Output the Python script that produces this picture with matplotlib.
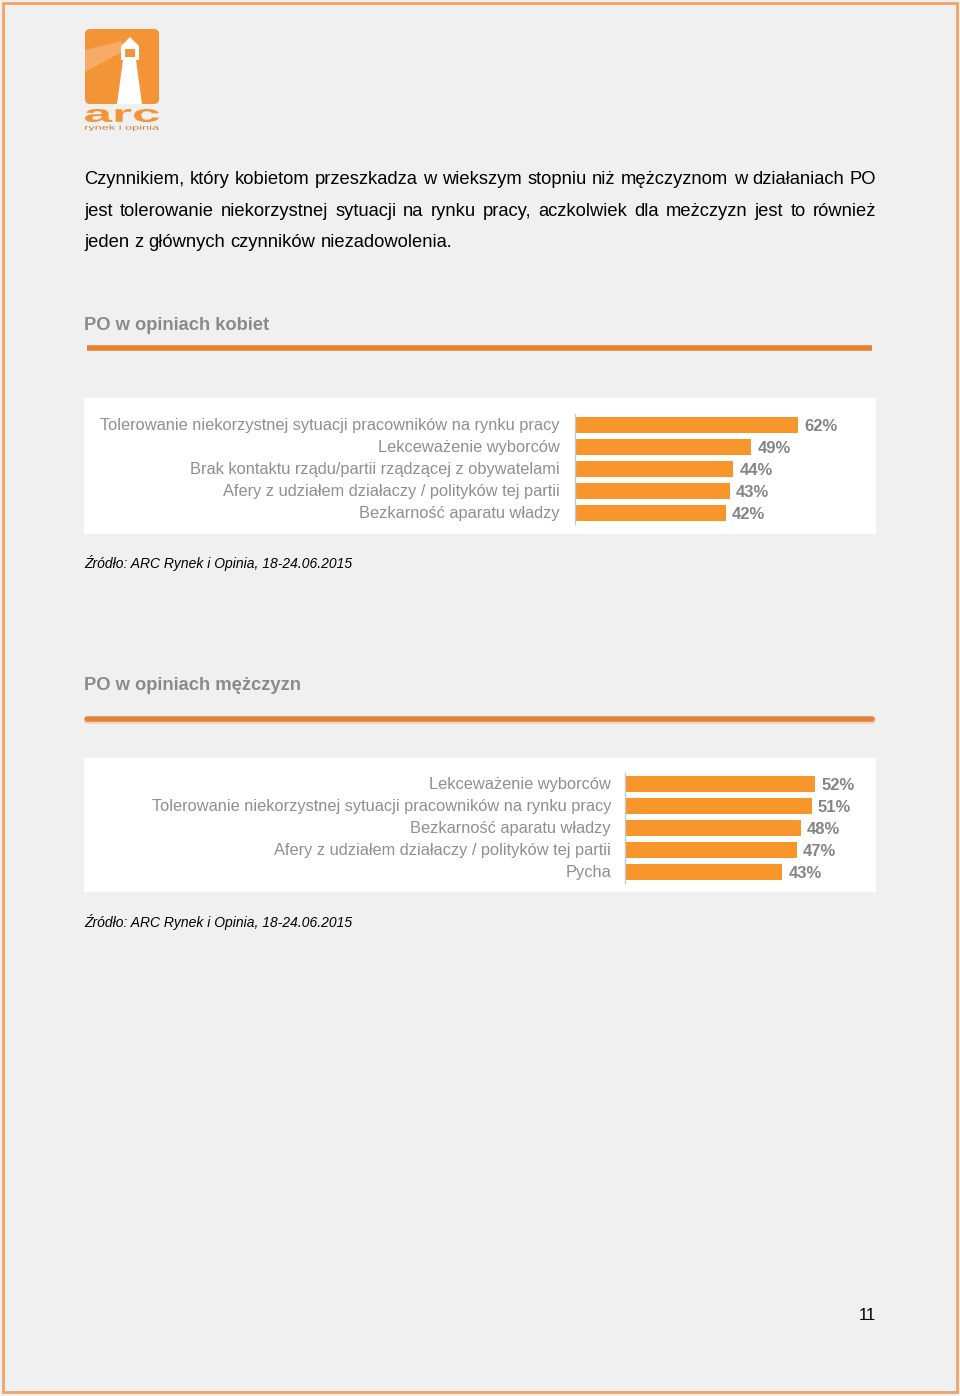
import matplotlib
matplotlib.use("Agg")
import matplotlib.pyplot as plt
from matplotlib.patches import FancyBboxPatch, Polygon, Rectangle, PathPatch
from matplotlib.lines import Line2D
from matplotlib.textpath import TextPath
from matplotlib.font_manager import FontProperties
from matplotlib.transforms import Affine2D

W, H = 960, 1396
BG = "#f0f0f0"
ORANGE_BAR = "#f7962b"
ORANGE_LINE = "#e8802f"
GRAY_TXT = "#8a8a8a"

FONT = ["Liberation Sans", "DejaVu Sans"]

# ---------------- data ----------------
women_categories = [
    "Tolerowanie niekorzystnej sytuacji pracowników na rynku pracy",
    "Lekceważenie wyborców",
    "Brak kontaktu rządu/partii rządzącej z obywatelami",
    "Afery z udziałem działaczy / polityków tej partii",
    "Bezkarność aparatu władzy",
]
women_values = [62, 49, 44, 43, 42]

men_categories = [
    "Lekceważenie wyborców",
    "Tolerowanie niekorzystnej sytuacji pracowników na rynku pracy",
    "Bezkarność aparatu władzy",
    "Afery z udziałem działaczy / polityków tej partii",
    "Pycha",
]
men_values = [52, 51, 48, 47, 43]

intro_lines = [
    "Czynnikiem, który kobietom przeszkadza w wiekszym stopniu niż mężczyznom w działaniach PO",
    "jest tolerowanie niekorzystnej sytuacji na rynku pracy, aczkolwiek dla meżczyzn jest to również",
    "jeden z głównych czynników niezadowolenia.",
]
title_women = "PO w opiniach kobiet"
title_men = "PO w opiniach mężczyzn"
source_text = "Źródło: ARC Rynek i Opinia, 18-24.06.2015"
page_number = "11"

fig = plt.figure(figsize=(W / 100, H / 100), dpi=100)
fig.patch.set_facecolor(BG)

# overlay axes in pixel coordinates (y downward)
page = fig.add_axes([0, 0, 1, 1])
page.set_xlim(0, W)
page.set_ylim(H, 0)
page.axis("off")
page.set_zorder(0)

# page border
page.add_patch(Rectangle((3, 3), W - 6, H - 7, fill=False, edgecolor="#f0a468", lw=2))

# ---------------- logo ----------------
LOGO = "#f39436"
page.add_patch(FancyBboxPatch((85, 29), 74, 75, boxstyle="round,pad=0,rounding_size=5",
                              facecolor=LOGO, edgecolor="none"))
# light beam
page.add_patch(Polygon([[85, 50], [122, 41], [122, 52], [85, 72]], closed=True,
                       facecolor="#f6ac66", edgecolor="none"))
# tower
page.add_patch(Polygon([[117, 104], [142, 104], [136, 60], [123, 60]], closed=True,
                       facecolor="white", edgecolor="none"))
page.add_patch(Rectangle((121, 46), 18, 14, facecolor="white", edgecolor="none"))
page.add_patch(Polygon([[121, 46], [130, 37], [139, 46]], closed=True,
                       facecolor="white", edgecolor="none"))
page.add_patch(Rectangle((125, 49), 10, 8, facecolor=LOGO, edgecolor="none"))


def boxed_text(s, x0, y0, x1, y1, color, weight="normal"):
    tp = TextPath((0, 0), s, size=10, prop=FontProperties(family="Liberation Sans", weight=weight))
    ext = tp.get_extents()
    sx = (x1 - x0) / ext.width
    sy = (y1 - y0) / ext.height
    tr = Affine2D().translate(-ext.x0, -ext.y0).scale(sx, -sy).translate(x0, y1)
    page.add_patch(PathPatch(tr.transform_path(tp), facecolor=color, edgecolor="none"))


boxed_text("arc", 85, 109, 159, 122, LOGO, weight="bold")
boxed_text("rynek i opinia", 85, 125, 159, 131, "#c77a3a")

# ---------------- intro text (justified) ----------------
renderer = fig.canvas.get_renderer()


def justified(line, x0, x1, y, size, justify=True):
    words = line.split(" ")
    texts = [page.text(0, y, w, fontsize=size, family=FONT, color="black",
                       ha="left", va="baseline") for w in words]
    widths = [t.get_window_extent(renderer).width for t in texts]
    a1 = page.text(0, y, "a a", fontsize=size, family=FONT)
    a2 = page.text(0, y, "aa", fontsize=size, family=FONT)
    space = a1.get_window_extent(renderer).width - a2.get_window_extent(renderer).width
    a1.remove()
    a2.remove()
    if justify and len(words) > 1:
        gap = (x1 - x0 - sum(widths)) / (len(words) - 1)
    else:
        gap = space
    x = x0
    for t, w in zip(texts, widths):
        t.set_x(x)
        x += w + gap


intro_y = [184, 216, 247]
for i, (ln, yy) in enumerate(zip(intro_lines, intro_y)):
    justified(ln, 84, 876, yy, 13.2, justify=(i < 2))

# ---------------- section titles ----------------
page.text(84, 326, title_women, fontsize=13.2, fontweight="bold", color=GRAY_TXT,
          family=FONT, va="center")
page.add_line(Line2D([87, 872], [347.5, 347.5], color=ORANGE_LINE, lw=4, solid_capstyle="butt"))

page.text(84, 685, title_men, fontsize=13.2, fontweight="bold", color=GRAY_TXT,
          family=FONT, va="center")
page.add_line(Line2D([87, 872], [720, 720], color="#f3d3bb", lw=5, solid_capstyle="round"))
page.add_line(Line2D([87, 872], [718.5, 718.5], color="#e08440", lw=4, solid_capstyle="round"))

# white chart boxes
page.add_patch(Rectangle((84, 398), 792, 136, facecolor="white", edgecolor="none"))
page.add_patch(Rectangle((84, 758), 792, 134, facecolor="white", edgecolor="none"))

page.text(84, 563, source_text, fontsize=10, style="italic", color="black",
          family=FONT, va="center")
page.text(84, 922, source_text, fontsize=10, style="italic", color="black",
          family=FONT, va="center")
page.text(876, 1315, page_number, fontsize=12, color="black", family=FONT,
          ha="right", va="center")


# ---------------- bar charts ----------------
def bar_chart(cats, vals, x_axis, y_top, y_bot, px_per_unit, label_right):
    right = 876
    ax = fig.add_axes([x_axis / W, 1 - y_bot / H, (right - x_axis) / W, (y_bot - y_top) / H])
    ax.set_zorder(2)
    ax.patch.set_alpha(0)
    ax.set_xlim(0, (right - x_axis) / px_per_unit)
    n = len(cats)
    ax.set_ylim(n - 0.5, -0.5)
    pos = list(range(n))
    ax.barh(pos, vals, height=0.74, color=ORANGE_BAR, edgecolor="none")
    for sp in ["top", "right", "bottom"]:
        ax.spines[sp].set_visible(False)
    ax.spines["left"].set_color("#c8c8c8")
    ax.spines["left"].set_linewidth(1)
    ax.set_xticks([])
    ax.set_yticks([])
    for p, v in zip(pos, vals):
        ax.text(v + 6 / px_per_unit, p + 0.05, f"{v}%", va="center", ha="left",
                fontsize=12, fontweight="bold", color="#858585", family=FONT)
    for p, c in zip(pos, cats):
        ax.text(-(x_axis - label_right) / px_per_unit, p + 0.04, c, va="center", ha="right",
                fontsize=11.75, color="#8f8f8f", family=FONT)
    return ax


bar_chart(women_categories, women_values, 575, 414, 524, 3.6, 560)
bar_chart(men_categories, men_values, 625, 773, 883, 3.66, 611)

fig.savefig("out.png", dpi=100, facecolor=fig.get_facecolor())
